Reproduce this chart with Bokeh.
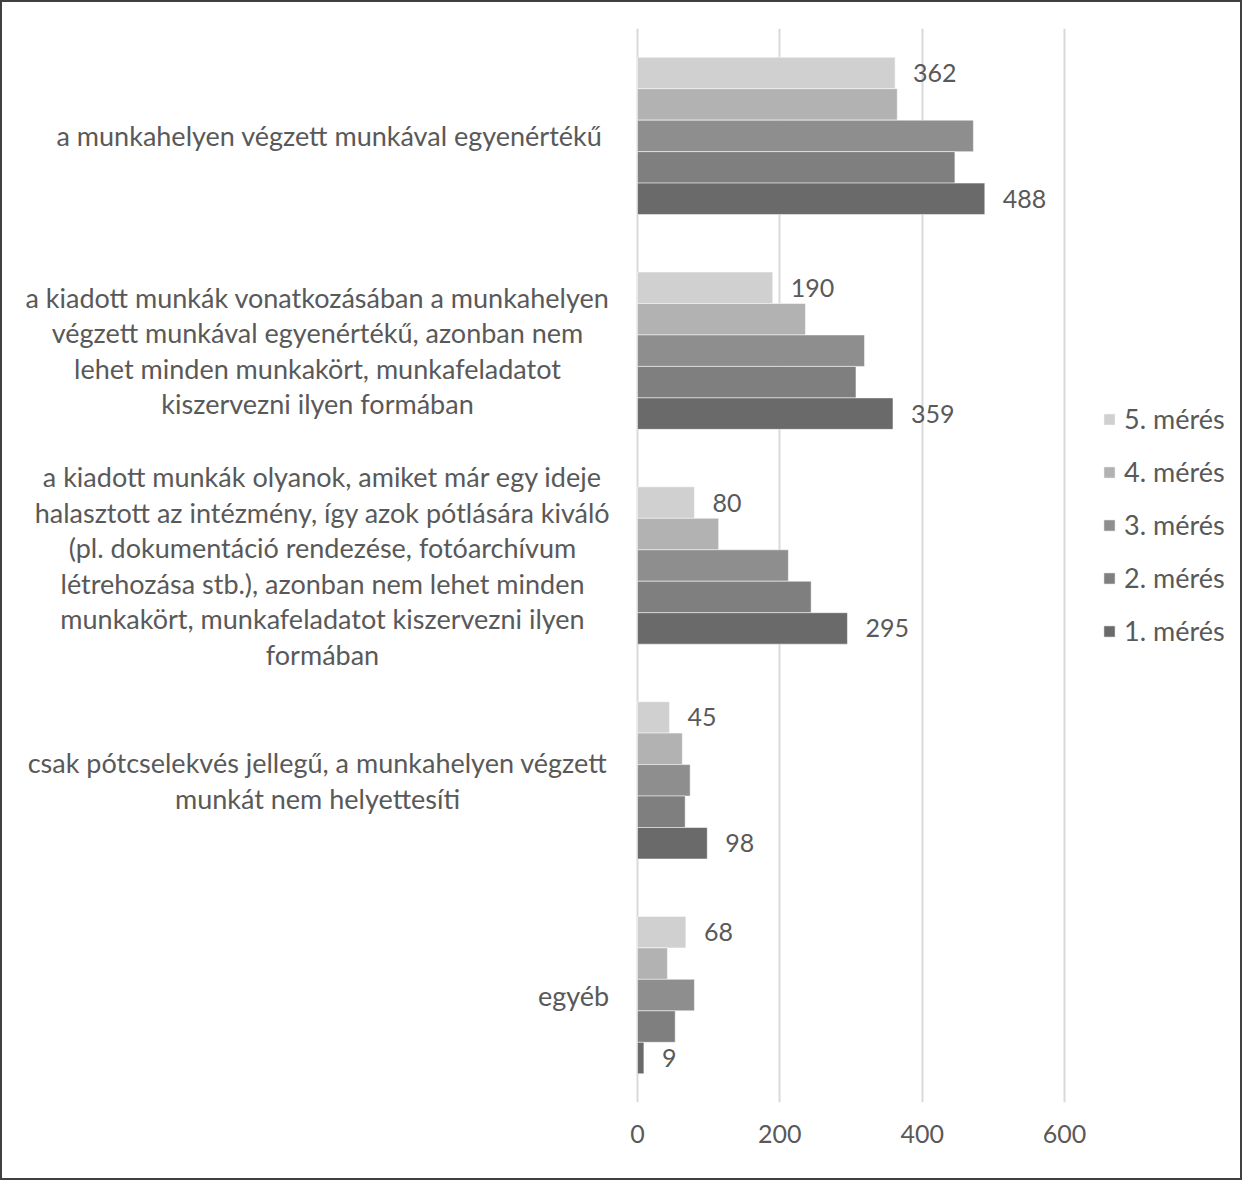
from bokeh.plotting import figure
from bokeh.models import (ColumnDataSource, FactorRange, Range1d, FixedTicker,
                          LabelSet, Legend, LegendItem)
from bokeh.core.properties import value
from bokeh.transform import dodge
from bokeh.embed import file_html
from bokeh.resources import INLINE

categories = [
    "a munkahelyen végzett munkával egyenértékű",
    "a kiadott munkák vonatkozásában a munkahelyen\nvégzett munkával egyenértékű, azonban nem\nlehet minden munkakört, munkafeladatot\nkiszervezni ilyen formában",
    "a kiadott munkák olyanok, amiket már egy ideje\nhalasztott az intézmény, így azok pótlására kiváló\n(pl. dokumentáció rendezése, fotóarchívum\nlétrehozása stb.), azonban nem lehet minden\nmunkakört, munkafeladatot kiszervezni ilyen\nformában",
    "csak pótcselekvés jellegű, a munkahelyen végzett\nmunkát nem helyettesíti",
    "egyéb",
]
series_names = ["5. mérés", "4. mérés", "3. mérés", "2. mérés", "1. mérés"]
meres5 = [362, 190, 80, 45, 68]
meres4 = [365, 236, 114, 63, 42]
meres3 = [472, 319, 212, 74, 80]
meres2 = [446, 307, 244, 67, 53]
meres1 = [488, 359, 295, 98, 9]
x_ticks = [0, 200, 400, 600]

series_values = [meres5, meres4, meres3, meres2, meres1]
colors = ["#d0d0d0", "#b2b2b2", "#8e8e8e", "#7f7f7f", "#6a6a6a"]
labelled = {"5. mérés", "1. mérés"}

# layout
W, H = 1242, 1180
TOP, BOTTOM = 26, 80
AXIS_PX = 635            # px from left edge of the plot to the value 0
PX_PER_UNIT = 427 / 600  # horizontal scale
label_centres = [-308, -320, -315, -320, -64]  # text block centres, px from the 0 line
LINE_PX = 35.5

FONT = "Lato"
TXT = "#595959"

data = {"cat": categories}
keys = []
for i, vals in enumerate(series_values):
    k = f"s{i}"
    keys.append(k)
    data[k] = vals
    data[k + "_t"] = [str(v) for v in vals]
source = ColumnDataSource(data)

x0 = -AXIS_PX / PX_PER_UNIT
x1 = (W - AXIS_PX) / PX_PER_UNIT
p = figure(
    width=W, height=H,
    y_range=FactorRange(factors=list(reversed(categories))),
    x_range=Range1d(x0, x1),
    output_backend="svg", toolbar_location=None,
    min_border_left=0, min_border_right=0, min_border_top=TOP, min_border_bottom=BOTTOM,
)
p.styles = {"border": "2px solid #404040"}
p.outline_line_color = None
p.background_fill_color = "white"
p.border_fill_color = "white"

bh = 0.1465
items = []
for i, (name, k, c) in enumerate(zip(series_names, keys, colors)):
    off = (2 - i) * bh
    r = p.hbar(y=dodge("cat", off, range=p.y_range), left=0, right=k, height=bh,
               source=source, fill_color=c, line_color="white", line_alpha=0.5, line_width=1)
    items.append(LegendItem(label=name, renderers=[r]))
    if name in labelled:
        ls = LabelSet(x=k, y=dodge("cat", off, range=p.y_range), text=k + "_t", source=source,
                      x_offset=18, text_baseline="middle", text_align="left",
                      text_font=value(FONT), text_font_size="25px", text_color=TXT)
        p.add_layout(ls)

# category labels: one centred label per text line, block centred on the category
band_px = (H - TOP - BOTTOM) / len(categories)
line_units = LINE_PX / band_px
groups = {}
for cat, cx in zip(categories, label_centres):
    lines = cat.split("\n")
    n = len(lines)
    for j, ln in enumerate(lines):
        off = round(((n - 1) / 2 - j) * line_units, 6)
        g = groups.setdefault(off, {"cat": [], "line": [], "lx": []})
        g["cat"].append(cat)
        g["line"].append(ln)
        g["lx"].append(AXIS_PX + cx)
for off, g in groups.items():
    src = ColumnDataSource(g)
    p.add_layout(LabelSet(x="lx", y=dodge("cat", off, range=p.y_range), x_units="screen",
                          text="line", source=src, text_align="center", text_baseline="middle",
                          text_font=value(FONT), text_font_size="27px", text_color=TXT))

p.xaxis.ticker = FixedTicker(ticks=x_ticks)
p.xgrid.ticker = FixedTicker(ticks=x_ticks)
p.xgrid.grid_line_color = "#d9d9d9"
p.xgrid.grid_line_width = 2
p.ygrid.grid_line_color = None
p.xaxis.axis_line_color = None
p.xaxis.major_tick_line_color = None
p.xaxis.minor_tick_line_color = None
p.xaxis.major_label_text_font = FONT
p.xaxis.major_label_text_font_size = "25px"
p.xaxis.major_label_text_color = TXT
p.xaxis.major_label_standoff = 16
p.yaxis.visible = False

legend = Legend(items=items, location=(AXIS_PX + 465, 455), orientation="vertical",
                label_text_font=FONT, label_text_font_size="27px", label_text_color=TXT,
                glyph_width=14, glyph_height=14, label_standoff=8, spacing=20,
                label_height=30, padding=0, margin=0, border_line_color=None,
                background_fill_alpha=0)
p.add_layout(legend, "center")

open("out.html", "w").write(file_html(p, INLINE))
